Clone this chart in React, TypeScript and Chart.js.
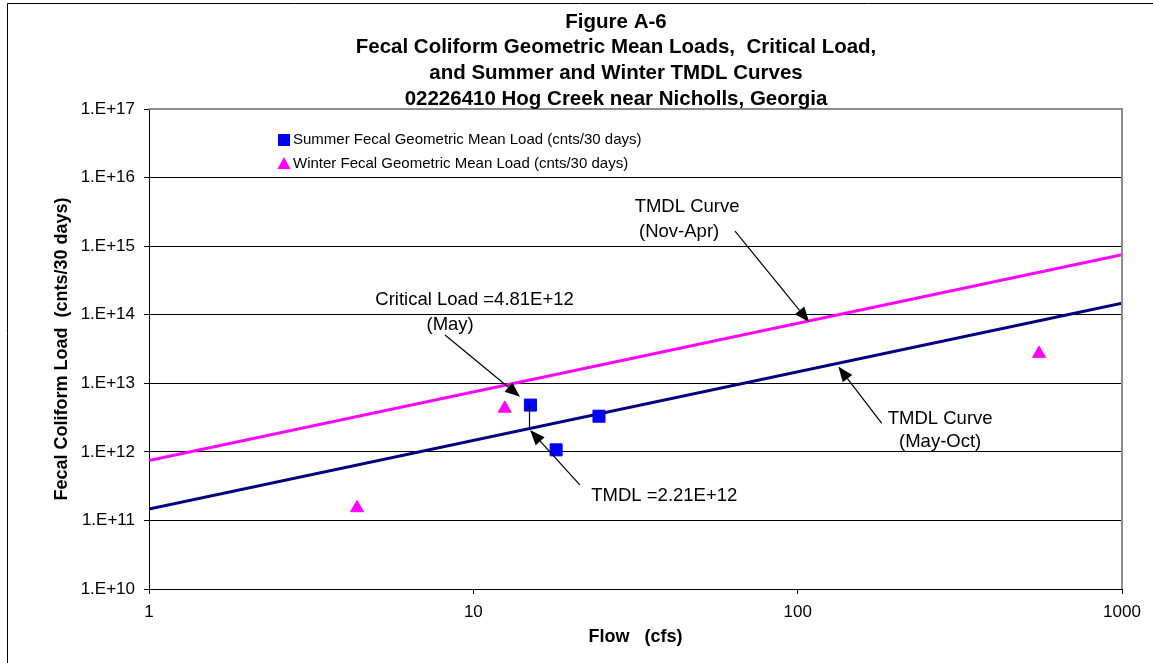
import React, { useEffect, useRef } from "react";
import { Chart, registerables } from "chart.js";

Chart.register(...registerables);

const FONT = "'Liberation Sans', Arial, Helvetica, sans-serif";

// ---- text ----
const titleLines = [
  "Figure A-6",
  "Fecal Coliform Geometric Mean Loads,  Critical Load,",
  "and Summer and Winter TMDL Curves",
  "02226410 Hog Creek near Nicholls, Georgia",
];
const xAxisTitle = "Flow   (cfs)";
const yAxisTitle = "Fecal Coliform Load  (cnts/30 days)";
const legendLabels = [
  "Summer Fecal Geometric Mean Load (cnts/30 days)",
  "Winter Fecal Geometric Mean Load (cnts/30 days)",
];

// ---- ticks ----
const xTickValues = [1, 10, 100, 1000];
const yTickValues = [1e10, 1e11, 1e12, 1e13, 1e14, 1e15, 1e16, 1e17];

// ---- data ----
const summerFlow = [15.0, 18.0, 24.4];
const summerLoad = [4.81e12, 1.07e12, 3.31e12];
const winterFlow = [4.38, 12.5, 555];
const winterLoad = [1.52e11, 4.3e12, 2.71e13];
const curveFlow = [1, 1000];
const summerCurveLoad = [1.47e11, 1.47e14];
const winterCurveLoad = [7.5e11, 7.5e14];

// ---- annotations (data coordinates: [flow, load]) ----
const annotationTexts: { text: string; at: [number, number] }[] = [
  { text: "TMDL Curve", at: [45.6, 3.72e15] },
  { text: "(Nov-Apr)", at: [43.1, 1.61e15] },
  { text: "Critical Load =4.81E+12", at: [10.09, 1.64e14] },
  { text: "(May)", at: [8.48, 7.08e13] },
  { text: "TMDL =2.21E+12", at: [38.8, 2.27e11] },
  { text: "TMDL Curve", at: [275, 3.01e12] },
  { text: "(May-Oct)", at: [275, 1.39e12] },
];
const annotationArrows: { from: [number, number]; to: [number, number] }[] = [
  { from: [64.1, 1.66e15], to: [108.4, 7.83e13] },
  { from: [8.18, 5.06e13], to: [13.93, 6.37e12] },
  { from: [21.3, 3.29e11], to: [14.96, 2.08e12] },
  { from: [181.7, 2.61e12], to: [133.5, 1.75e13] },
];
const connectorFlow = 14.8;
const connectorLoads = [4.81e12, 2.21e12];

function drawArrow(ctx: CanvasRenderingContext2D, x1: number, y1: number, x2: number, y2: number) {
  const ang = Math.atan2(y2 - y1, x2 - x1);
  const hl = 15;
  const hw = 6;
  const bx = x2 - hl * Math.cos(ang);
  const by = y2 - hl * Math.sin(ang);
  ctx.beginPath();
  ctx.moveTo(x1, y1);
  ctx.lineTo(bx, by);
  ctx.stroke();
  ctx.beginPath();
  ctx.moveTo(x2, y2);
  ctx.lineTo(bx + hw * Math.sin(ang), by - hw * Math.cos(ang));
  ctx.lineTo(bx - hw * Math.sin(ang), by + hw * Math.cos(ang));
  ctx.closePath();
  ctx.fill();
}

const decorPlugin = {
  id: "decor",
  afterDatasetsDraw(chart: any) {
    const { ctx, chartArea, scales } = chart;
    const xs = scales.x;
    const ys = scales.y;
    ctx.save();
    // plot border top/right (gray)
    ctx.strokeStyle = "#8c8c8c";
    ctx.lineWidth = 2;
    ctx.beginPath();
    ctx.moveTo(chartArea.left, chartArea.top);
    ctx.lineTo(chartArea.right, chartArea.top);
    ctx.lineTo(chartArea.right, chartArea.bottom);
    ctx.stroke();

    // connector
    ctx.strokeStyle = "#000";
    ctx.fillStyle = "#000";
    ctx.lineWidth = 1.2;
    ctx.beginPath();
    const cx = Math.round(xs.getPixelForValue(connectorFlow)) + 0.5;
    ctx.moveTo(cx, ys.getPixelForValue(connectorLoads[0]));
    ctx.lineTo(cx, ys.getPixelForValue(connectorLoads[1]));
    ctx.stroke();

    for (const a of annotationArrows) {
      drawArrow(
        ctx,
        xs.getPixelForValue(a.from[0]),
        ys.getPixelForValue(a.from[1]),
        xs.getPixelForValue(a.to[0]),
        ys.getPixelForValue(a.to[1])
      );
    }

    ctx.font = `18.5px ${FONT}`;
    ctx.textAlign = "center";
    ctx.textBaseline = "middle";
    for (const t of annotationTexts) {
      ctx.fillText(t.text, xs.getPixelForValue(t.at[0]), ys.getPixelForValue(t.at[1]));
    }

    // legend
    const lx = chartArea.left + 135;
    const ly = chartArea.top + 31;
    ctx.fillStyle = "#0000FF";
    ctx.fillRect(lx - 6, ly - 6, 12, 12);
    ctx.fillStyle = "#FF00FF";
    ctx.beginPath();
    ctx.moveTo(lx, ly + 24 - 7);
    ctx.lineTo(lx + 6.5, ly + 24 + 5);
    ctx.lineTo(lx - 6.5, ly + 24 + 5);
    ctx.closePath();
    ctx.fill();
    ctx.fillStyle = "#000";
    ctx.font = `15px ${FONT}`;
    ctx.textAlign = "left";
    ctx.fillText(legendLabels[0], lx + 9, ly);
    ctx.fillText(legendLabels[1], lx + 9, ly + 24);

    // titles
    ctx.font = `bold 20.5px ${FONT}`;
    ctx.textAlign = "center";
    titleLines.forEach((l, i) => ctx.fillText(l, 616, 22 + i * 25.7));

    ctx.font = `bold 18px ${FONT}`;
    ctx.fillText(xAxisTitle, (chartArea.left + chartArea.right) / 2, 637);
    ctx.save();
    ctx.translate(62, (chartArea.top + chartArea.bottom) / 2);
    ctx.rotate(-Math.PI / 2);
    ctx.fillText(yAxisTitle, 0, 0);
    ctx.restore();

    // outer frame
    ctx.strokeStyle = "#000";
    ctx.lineWidth = 1;
    ctx.beginPath();
    ctx.moveTo(7.5, 700);
    ctx.lineTo(7.5, 3.5);
    ctx.lineTo(1200, 3.5);
    ctx.stroke();
    ctx.restore();
  },
};

export default function App() {
  const ref = useRef<HTMLCanvasElement | null>(null);
  useEffect(() => {
    if (!ref.current) return;
    const chart = new Chart(ref.current, {
      type: "scatter",
      data: {
        datasets: [
          {
            label: legendLabels[0],
            data: summerFlow.map((x, i) => ({ x, y: summerLoad[i] })),
            pointStyle: "rect",
            pointRadius: 8.5,
            pointBackgroundColor: "#0000FF",
            pointBorderColor: "#0000FF",
            pointBorderWidth: 1,
            showLine: false,
          },
          {
            label: legendLabels[1],
            data: winterFlow.map((x, i) => ({ x, y: winterLoad[i] })),
            pointStyle: "triangle",
            pointRadius: 7.5,
            pointBackgroundColor: "#FF00FF",
            pointBorderColor: "#FF00FF",
            pointBorderWidth: 1,
            showLine: false,
          },
          {
            label: "TMDL Curve (Nov-Apr)",
            data: curveFlow.map((x, i) => ({ x, y: winterCurveLoad[i] })),
            showLine: true,
            borderColor: "#FF00FF",
            borderWidth: 3,
            pointRadius: 0,
          },
          {
            label: "TMDL Curve (May-Oct)",
            data: curveFlow.map((x, i) => ({ x, y: summerCurveLoad[i] })),
            showLine: true,
            borderColor: "#000080",
            borderWidth: 3,
            pointRadius: 0,
          },
        ],
      },
      options: {
        animation: false,
        responsive: false,
        devicePixelRatio: 1,
        layout: { padding: { top: 109, right: 31, left: 0, bottom: 0 } },
        plugins: { legend: { display: false }, tooltip: { enabled: false }, title: { display: false } },
        scales: {
          x: {
            type: "logarithmic",
            min: 1,
            max: 1000,
            afterBuildTicks: (s: any) => {
              s.ticks = xTickValues.map((v) => ({ value: v }));
            },
            afterFit: (s: any) => {
              s.height = 74;
            },
            ticks: {
              callback: (v: any) => String(v),
              font: { family: FONT, size: 17 },
              color: "#000",
              padding: 8,
              maxRotation: 0,
              autoSkip: false,
            },
            grid: { drawOnChartArea: false, tickLength: 5, color: "#000" },
            border: { color: "#000", width: 1 },
          },
          y: {
            type: "logarithmic",
            min: 1e10,
            max: 1e17,
            afterBuildTicks: (s: any) => {
              s.ticks = yTickValues.map((v) => ({ value: v }));
            },
            afterFit: (s: any) => {
              s.width = 149;
            },
            ticks: {
              callback: (v: any) => "1.E+" + Math.round(Math.log10(v)),
              font: { family: FONT, size: 17 },
              color: "#000",
              padding: 9,
              autoSkip: false,
            },
            grid: {
              color: (c: any) => (c.tick && c.tick.value === 1e17 ? "#8c8c8c" : "#000"),
              tickColor: "#000",
              tickLength: 5,
              lineWidth: 1,
            },
            border: { color: "#000", width: 1 },
          },
        },
      },
      plugins: [decorPlugin],
    } as any);
    return () => chart.destroy();
  }, []);
  return (
    <div style={{ position: "fixed", left: 0, top: 0, width: 1153, height: 663, background: "#fff" }}>
      <canvas ref={ref} width={1153} height={663} style={{ display: "block" }} />
    </div>
  );
}
